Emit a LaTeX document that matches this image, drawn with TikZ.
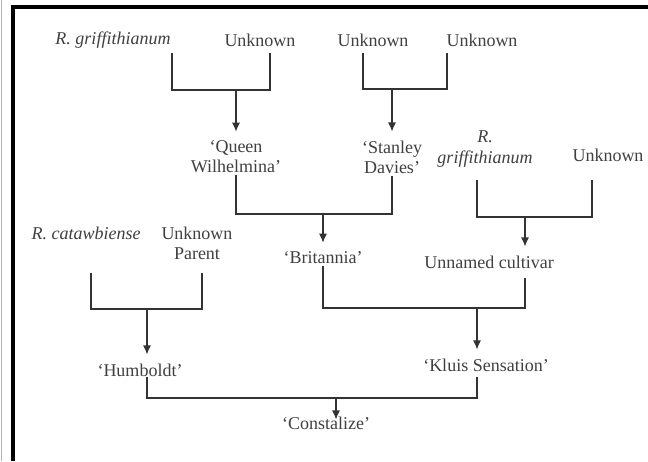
\documentclass[tikz,border=0pt]{standalone}
\usepackage{fontspec}
\setmainfont{Liberation Serif}
\usetikzlibrary{arrows.meta}

\tikzset{
	lbl/.style = {text=black!75, font=\fontsize{18}{20}\selectfont, align=center, inner sep=2pt},
	sp/.style = {lbl, font=\fontsize{18}{21}\selectfont\itshape},
	bar/.style = {draw=black!80, line width=1.2pt},
	arr/.style = {bar, -{Latex[length=9pt,width=8pt]}, shorten >=7pt}
}

\begin{document}
\begin{tikzpicture}[x=1pt, y=-1pt]

	\useasboundingbox (0,0) rectangle (648,461);
	\fill [white] (0,0) rectangle (648,461);
	\draw [gray!60, line width=0.8pt] (1.5,0) -- (1.5,461);
	\draw [line width=4pt] (12.5,461) -- (12.5,7) -- (648,7);

	% parents
	\node [sp]  (rgA)   at (113,40) {R. griffithianum};
	\node [lbl] (unkA)  at (260,40) {Unknown};
	\node [lbl] (unkB)  at (373,40) {Unknown};
	\node [lbl] (unkC)  at (482,40) {Unknown};

	\node [lbl] (queen)   at (236,157) {`Queen\\Wilhelmina'};
	\node [lbl] (stanley) at (392,157) {`Stanley\\Davies'};
	\node [sp]  (rgB)     at (485,149) {R.\\griffithianum};
	\node [lbl] (unkD)    at (608,155) {Unknown};

	\node [sp]  (cataw)   at (86,233)  {R. catawbiense};
	\node [lbl] (unkpar)  at (197,243) {Unknown\\Parent};
	\node [lbl] (brit)    at (323,258) {`Britannia'};
	\node [lbl] (unnamed) at (489,262) {Unnamed cultivar};

	\node [lbl] (humb)    at (140,370) {`Humboldt'};
	\node [lbl] (kluis)   at (486,365) {`Kluis Sensation'};
	\node [lbl] (const)   at (326,423) {`Constalize'};

	% crosses
	\coordinate (aL) at (172,53);  \coordinate (aR) at (270,53);  \coordinate (aM) at (236,90);
	\draw [bar] (aL) |- (aM) -| (aR);
	\draw [arr] (aM) -- (aM |- queen.north);

	\coordinate (bL) at (363,53);  \coordinate (bR) at (447,53);  \coordinate (bM) at (392,89);
	\draw [bar] (bL) |- (bM) -| (bR);
	\draw [arr] (bM) -- (bM |- stanley.north);

	\coordinate (cM) at (323,214);
	\draw [bar] (queen.south) |- (cM) -| (stanley.south);
	\draw [arr] (cM) -- (brit.north);

	\coordinate (dL) at (477,180); \coordinate (dR) at (592,180); \coordinate (dM) at (525,217);
	\draw [bar] (dL) |- (dM) -| (dR);
	\draw [arr] (dM) -- (dM |- unnamed.north);

	\coordinate (eR) at (525,278); \coordinate (eM) at (477,308);
	\draw [bar] (brit.south) |- (eM) -| (eR);
	\draw [arr] (eM) -- (kluis.north -| eM);

	\coordinate (fL) at (91,273);  \coordinate (fR) at (202,273); \coordinate (fM) at (147,309);
	\draw [bar] (fL) |- (fM) -| (fR);
	\draw [arr] (fM) -- (fM |- humb.north);

	\coordinate (gL) at (147,377); \coordinate (gR) at (477,377); \coordinate (gM) at (336,398);
	\draw [bar] (gL) |- (gM) -| (gR);
	\draw [arr, shorten >=-5pt] (gM) -- (gM |- const.north);

\end{tikzpicture}
\end{document}
